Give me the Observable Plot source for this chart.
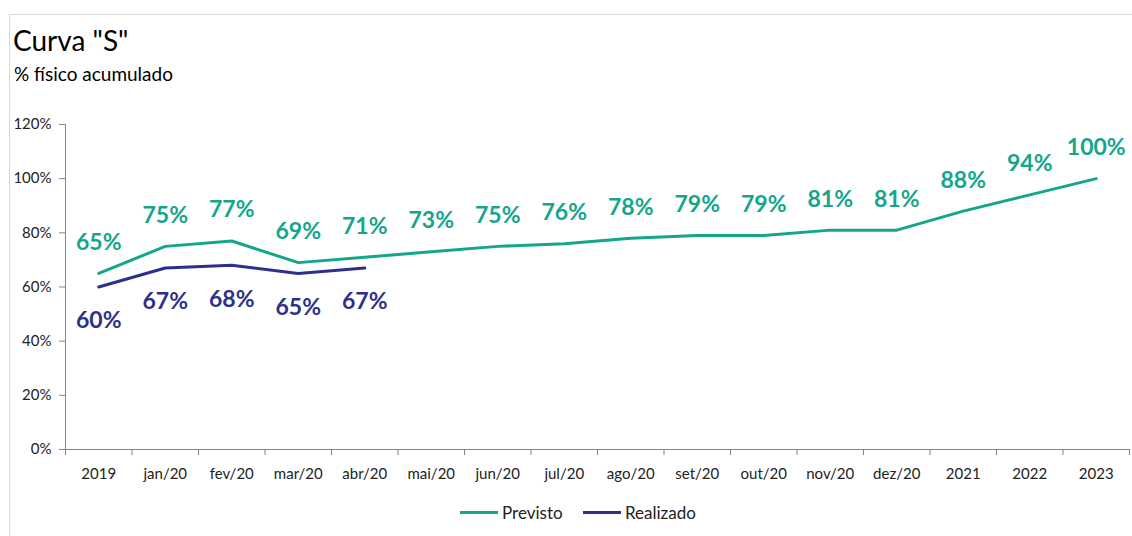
<!DOCTYPE html>
<html>
<head>
<meta charset="utf-8">
<script src="https://cdn.jsdelivr.net/npm/d3@7"></script>
<script src="https://cdn.jsdelivr.net/npm/@observablehq/plot@0.6"></script>
<style>
  body { margin: 0; background: #fff; font-family: Lato, "Open Sans", sans-serif; }
  #wrap { position: relative; width: 1132px; height: 536px; overflow: hidden; }
  #frame { position: absolute; left: 9px; top: 14px; width: 1200px; height: 600px;
           border-top: 1px solid #d9d9d9; border-left: 1px solid #d9d9d9; }
  #title { position: absolute; left: 13px; top: 23px; font-size: 28px; color: #000; }
  #subtitle { position: absolute; left: 14px; top: 62px; font-size: 19px; color: #000; }
  #chart { position: absolute; left: 0; top: 0; }
  #legend { position: absolute; top: 502px; left: 0; width: 1132px; font-size: 17px; color: #222; }
  .item { position: absolute; display: flex; align-items: center; }
  .sw { display: inline-block; width: 38px; height: 3px; margin-right: 4px; }
</style>
</head>
<body>
<div id="wrap">
  <div id="frame"></div>
  <div id="title">Curva "S"</div>
  <div id="subtitle">% físico acumulado</div>
  <div id="chart"></div>
  <div id="legend">
    <div class="item" style="left:460px"><span class="sw" style="background:#13a68a"></span>Previsto</div>
    <div class="item" style="left:583px"><span class="sw" style="background:#2e2f8c"></span>Realizado</div>
  </div>
</div>
<script>
const categories = ["2019","jan/20","fev/20","mar/20","abr/20","mai/20","jun/20","jul/20","ago/20","set/20","out/20","nov/20","dez/20","2021","2022","2023"];
const previsto = [0.65,0.75,0.77,0.69,0.71,0.73,0.75,0.76,0.78,0.79,0.79,0.81,0.81,0.88,0.94,1.00];
const realizado = [0.60,0.67,0.68,0.65,0.67];
const yTicks = [0,0.2,0.4,0.6,0.8,1.0,1.2];

const teal = "#13a68a";
const navy = "#2e2f8c";
const axisColor = "#868686";

const prevData = previsto.map((v, i) => ({x: i + 0.5, v}));
const realData = realizado.map((v, i) => ({x: i + 0.5, v}));
const centers = categories.map((c, i) => i + 0.5);
const bounds = d3.range(categories.length + 1);
const pct = d3.format(".0%");

const plot = Plot.plot({
  width: 1132,
  height: 490,
  marginLeft: 65,
  marginRight: 3,
  marginTop: 124,
  marginBottom: 41,
  style: {fontFamily: "Lato, 'Open Sans', sans-serif", color: "#222", background: "transparent"},
  x: {type: "linear", domain: [0, categories.length]},
  y: {domain: [0, 1.2]},
  marks: [
    Plot.ruleX([0], {y1: 0, y2: 1.2, stroke: axisColor}),
    Plot.ruleY([0], {stroke: axisColor}),
    Plot.axisY({ticks: yTicks, tickFormat: pct, tickSize: 6, tickPadding: 8, fontSize: 15, stroke: axisColor, label: null, color: "#222"}),
    Plot.axisX({ticks: bounds, tickFormat: () => "", tickSize: 6, stroke: axisColor, label: null}),
    Plot.axisX({ticks: centers, tickFormat: (d) => categories[Math.round(d - 0.5)], tickSize: 0, tickPadding: 19, fontSize: 15, label: null, color: "#222"}),
    Plot.line(prevData, {x: "x", y: "v", stroke: teal, strokeWidth: 3}),
    Plot.line(realData, {x: "x", y: "v", stroke: navy, strokeWidth: 3}),
    Plot.text(prevData, {x: "x", y: "v", text: d => pct(d.v), dy: -31, fill: teal, fontSize: 23, fontWeight: "bold"}),
    Plot.text(realData, {x: "x", y: "v", text: d => pct(d.v), dy: 34, fill: navy, fontSize: 23, fontWeight: "bold"})
  ]
});
document.getElementById("chart").appendChild(plot);
</script>
</body>
</html>
